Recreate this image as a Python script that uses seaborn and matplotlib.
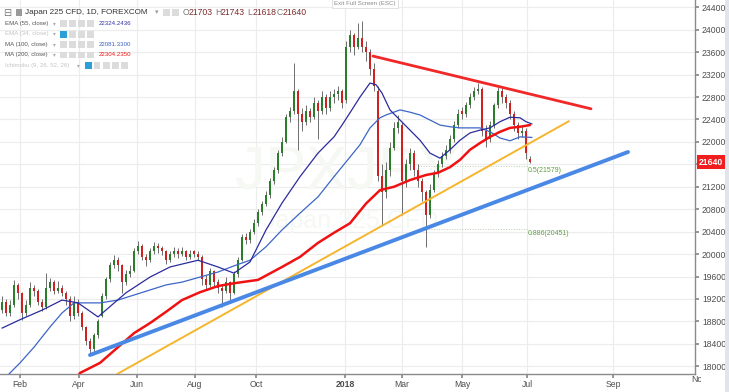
import numpy as np
import pandas as pd
import seaborn as sns
import matplotlib
matplotlib.use("Agg")
import matplotlib.pyplot as plt
from matplotlib.patches import Rectangle
from matplotlib.transforms import blended_transform_factory

# Japan 225 CFD, one candle per ~3 sessions, Jan 2017 -> early Jul 2018
opens = [19000, 19150, 18950, 19100, 19450, 19300, 18950, 19100, 19400, 19350,
         19150, 19050, 19400, 19500, 19350, 19400, 19300, 19200, 18900, 19150,
         18950, 18700, 18450, 18300, 18550, 18900, 19250, 19550, 19800, 19900,
         19800, 19500, 19650, 19700, 20050, 20150, 19950, 19900, 20050, 20150,
         20100, 20050, 19900, 20000, 20050, 20000, 20050, 19950, 20050, 20000,
         19950, 19550, 19450, 19700, 19500, 19400, 19350, 19500, 19300, 19650,
         19900, 20300, 20250, 20400, 20550, 20750, 20900, 21050, 21300, 21500,
         21800, 22000, 22450, 22550, 22900, 22500, 22350, 22550, 22450, 22700,
         22550, 22800, 22600, 22800, 22850, 22900, 22750, 23700, 23900, 23700,
         23850, 23700, 23600, 23300, 22900, 21400, 21100, 21500, 21900, 22250,
         22300, 21300, 21600, 21800, 21500, 21300, 21100, 20700, 21150, 21450,
         21600, 21750, 21850, 22050, 22300, 22550, 22500, 22650, 22800, 22900,
         22950, 22200, 22050, 22300, 22650, 22900, 22800, 22700, 22500, 22300,
         22150, 22200, 21703]
highs = [19250, 19200, 19180, 19540, 19480, 19320, 19180, 19500, 19450, 19380,
         19200, 19660, 19580, 19540, 19520, 19450, 19350, 19250, 19250, 19200,
         18980, 18720, 18500, 18600, 18850, 19300, 19600, 19850, 19990, 19950,
         19820, 19720, 19800, 20100, 20230, 20180, 20000, 20100, 20220, 20200,
         20150, 20080, 20060, 20120, 20100, 20130, 20080, 20070, 20080, 20050,
         19980, 19620, 19760, 19720, 19560, 19450, 19600, 19520, 19700, 19950,
         20350, 20380, 20450, 20620, 20800, 20950, 21120, 21350, 21550, 21850,
         22080, 22500, 22620, 23400, 22950, 22600, 22650, 22600, 22800, 22750,
         22900, 22850, 22900, 22950, 23000, 22950, 23800, 24000, 23950, 24120,
         24160, 23800, 23650, 23400, 23000, 21600, 21650, 22000, 22350, 22480,
         22350, 21700, 21900, 21850, 21600, 21350, 21150, 21250, 21500, 21680,
         21820, 21950, 22120, 22380, 22580, 22620, 22720, 22880, 22980, 23050,
         22980, 22300, 22380, 22700, 22980, 23000, 22850, 22750, 22550, 22350,
         22300, 22250, 21743]
lows = [18950, 18900, 18900, 19050, 19200, 18820, 18900, 19050, 19250, 19100,
        18980, 19020, 19350, 19280, 19300, 19250, 19100, 18800, 18850, 18900,
        18650, 18380, 18230, 18260, 18500, 18880, 19200, 19500, 19750, 19700,
        19300, 19450, 19600, 19680, 20000, 19900, 19780, 19850, 20000, 20020,
        19980, 19830, 19860, 19950, 19930, 19960, 19900, 19920, 19940, 19900,
        19450, 19380, 19420, 19420, 19300, 19060, 19300, 19120, 19280, 19600,
        19880, 20180, 20200, 20350, 20500, 20700, 20850, 21000, 21250, 21450,
        21750, 21980, 22350, 22500, 21850, 22200, 22300, 22350, 22400, 22060,
        22500, 22500, 22550, 22700, 22750, 22600, 22700, 23600, 23550, 23650,
        23600, 23450, 23200, 22900, 21300, 20520, 21000, 21400, 21850, 22150,
        20700, 21200, 21500, 21400, 21200, 20950, 20130, 20650, 21100, 21380,
        21550, 21700, 21800, 22000, 22250, 22400, 22450, 22600, 22750, 22850,
        22100, 21910, 22000, 22250, 22600, 22700, 22600, 22400, 22200, 22050,
        22080, 21700, 21618]
closes = [19150, 18950, 19100, 19450, 19300, 18950, 19100, 19400, 19350, 19150,
          19050, 19400, 19500, 19350, 19400, 19300, 19200, 18900, 19150, 18950,
          18700, 18450, 18300, 18550, 18800, 19250, 19550, 19800, 19900, 19800,
          19500, 19650, 19700, 20050, 20150, 19950, 19900, 20050, 20150, 20100,
          20050, 19900, 20000, 20050, 20000, 20050, 19950, 20000, 20000, 19950,
          19550, 19450, 19700, 19500, 19400, 19350, 19500, 19300, 19650, 19900,
          20300, 20250, 20400, 20550, 20750, 20900, 21050, 21300, 21500, 21800,
          22000, 22450, 22550, 22900, 22500, 22350, 22550, 22450, 22700, 22550,
          22800, 22600, 22800, 22850, 22900, 22700, 23700, 23900, 23700, 23850,
          23700, 23600, 23300, 23000, 21400, 21100, 21500, 21900, 22250, 22350,
          21300, 21600, 21800, 21500, 21300, 21100, 20700, 21150, 21450, 21600,
          21750, 21850, 22050, 22300, 22500, 22500, 22650, 22800, 22900, 22950,
          22200, 22050, 22300, 22650, 22900, 22800, 22700, 22500, 22300, 22150,
          22200, 21800, 21640]

# indicator lines (bar index, price)
ema55_x = [0, 4.5, 10, 15, 19, 24, 31, 37, 42, 49, 54, 58, 62, 66, 70, 74.5, 79, 83, 85, 87,
           89.5, 92, 93.5, 95, 97, 99.5, 102, 104.5, 107, 109.5, 112, 114.5, 117, 119.5, 122,
           124.5, 127, 129.5, 131, 132.5]
ema55_y = [18680, 18830, 19000, 19180, 19130, 18880, 19310, 19590, 19770, 19890, 19770, 19660,
           19860, 20430, 20910, 21380, 21800, 22090, 22300, 22520, 22800, 23050, 23020, 22870,
           22570, 22390, 22210, 22030, 21800, 21710, 21860, 22030, 22160, 22210, 22250, 22360,
           22440, 22430, 22360, 22320]
ma100_x = [0, 2, 4.5, 8, 12, 15, 18, 21, 24.5, 29, 33, 37, 41, 45, 49.5, 54, 58, 62, 66, 70,
           74.5, 79, 83, 87, 89.5, 92, 94.5, 96, 99.5, 102, 104.5, 107, 109.5, 112, 114.5, 117,
           119.5, 122, 124.5, 127, 129.5, 132.5]
ma100_y = [17740, 17880, 18060, 18340, 18700, 18950, 19130, 19130, 19130, 19180, 19270, 19360,
           19450, 19500, 19590, 19680, 19790, 19890, 20130, 20430, 20730, 21020, 21380, 21730,
           21950, 22250, 22430, 22480, 22570, 22530, 22480, 22390, 22300, 22270, 22250, 22250,
           22250, 22180, 22070, 22020, 22090, 22080]
ma200_x = [18.5, 19.5, 24.5, 29, 33, 37, 41, 45, 49.5, 54, 58, 62, 64, 70, 74.5, 79, 83, 87, 91,
           94.5, 98, 102, 106, 109, 112, 114.5, 117, 119.5, 122, 124.5, 127, 129.5, 132]
ma200_y = [17760, 17880, 18060, 18340, 18590, 18770, 18970, 19180, 19320, 19430, 19480, 19520,
           19540, 19770, 19950, 20200, 20380, 20550, 20900, 21140, 21200, 21320, 21410, 21450,
           21550, 21680, 21860, 21980, 22090, 22180, 22250, 22270, 22300]

# drawn trendlines (start/end in bar index, price)
red_tl_x, red_tl_y = [92.75, 147.25], [23530, 22590]
orange_tl_x, orange_tl_y = [28.75, 141.75], [17860, 22370]
blue_tl_x, blue_tl_y = [22, 156.5], [18200, 21820]

fib_levels = [21579, 20451]
fib_labels = ["0.5(21579)", "0.886(20451)"]
fib_start, fib_end = 104, 131.5

month_pos = [4.5, 19.25, 33.75, 48.25, 63.5, 85.75, 100, 115, 131.25, 152.75]
month_lab = ["Feb", "Apr", "Jun", "Aug", "Oct", "2018", "Mar", "May", "Jul", "Sep"]
price_ticks = list(range(18000, 24401, 400))

GREEN, RED, WICK = "#2a7d2a", "#d21f1f", "#6e6e6e"

sns.set_theme(style="white")
plt.rcParams["font.family"] = ["Liberation Sans", "DejaVu Sans"]

W, H = 729, 392
fig = plt.figure(figsize=(W / 100, H / 100), dpi=100)
ax = fig.add_axes([0, 18 / H, 695 / W, 374 / H])

df = pd.DataFrame({"open": opens, "high": highs, "low": lows, "close": closes})
df["i"] = np.arange(len(df))
up = df["close"] >= df["open"]
body_lo = df[["open", "close"]].min(axis=1)
body_h = (df["close"] - df["open"]).abs().clip(lower=12)

ax.vlines(df["i"], df["low"], df["high"], color=WICK, lw=0.7, zorder=3)
ax.bar(df["i"], body_h, bottom=body_lo, width=0.62,
       color=np.where(up, GREEN, RED), linewidth=0, zorder=4)

sns.lineplot(x=ma100_x, y=ma100_y, ax=ax, color="#3c66c6", lw=0.9, zorder=5)
sns.lineplot(x=ema55_x, y=ema55_y, ax=ax, color="#2b2b9e", lw=0.9, zorder=5)
sns.lineplot(x=ma200_x, y=ma200_y, ax=ax, color="#f01212", lw=1.8, zorder=5)

sns.lineplot(x=orange_tl_x, y=orange_tl_y, ax=ax, color="#f5b52c", lw=1.4, zorder=6)
sns.lineplot(x=blue_tl_x, y=blue_tl_y, ax=ax, color="#4a88e6", lw=2.8, zorder=6)
sns.lineplot(x=red_tl_x, y=red_tl_y, ax=ax, color="#f02828", lw=2.0, zorder=6)

for lvl, lab in zip(fib_levels, fib_labels):
    ax.plot([fib_start, fib_end], [lvl, lvl], color="#b9cfae", lw=0.7, ls=":", zorder=2)
    ax.annotate(lab, (fib_end, lvl), xytext=(0, -3.5), textcoords="offset points",
                ha="left", va="center", fontsize=5, color="#5f9e3f", zorder=7)

# faint watermark
ax.text(0.50, 0.537, "JPXJPY", transform=ax.transAxes, fontsize=44, color="#f5f8f3",
        ha="center", va="center", zorder=1)
ax.text(0.505, 0.409, "Japan 225 CFD", transform=ax.transAxes, fontsize=18, color="#f5f8f3",
        ha="center", va="center", zorder=1)

ax.set_xlim(-0.5, 173.25)
ax.set_ylim(17862, 24530)
ax.set_xticks(month_pos)
ax.set_xticklabels(month_lab)
for t in ax.get_xticklabels():
    if t.get_text() == "2018":
        t.set_fontweight("bold")
ax.set_yticks(price_ticks)
# the last-price marker sits where 21600 would be
ax.set_yticklabels(["" if abs(p - closes[-1]) < 200 else str(p) for p in price_ticks])
ax.yaxis.tick_right()
ax.grid(True, color="#ececec", lw=0.8)
ax.set_axisbelow(True)
for s in ["top", "left"]:
    ax.spines[s].set_visible(False)
for s in ["right", "bottom"]:
    ax.spines[s].set_color("#8a8a8a")
    ax.spines[s].set_linewidth(1)
ax.tick_params(axis="y", right=True, left=False, length=3, color="#8a8a8a",
               labelsize=6.2, labelcolor="#4d4d4d", pad=2)
ax.tick_params(axis="x", bottom=True, length=3, color="#8a8a8a",
               labelsize=6.2, labelcolor="#4d4d4d", pad=1)

trans = blended_transform_factory(ax.transAxes, ax.transData)
ax.text(1.006, closes[-1], str(closes[-1]), transform=trans, ha="left", va="center",
        fontsize=6.2, color="white", fontweight="bold", clip_on=False, zorder=10,
        bbox=dict(boxstyle="square,pad=0.3", fc="#f01e1e", ec="none"))


def ftxt(x, y, s, **kw):
    fig.text(x / W, 1 - y / H, s, va="center", **kw)


def box(x, y, w, h, fc, zorder=1):
    fig.patches.append(Rectangle((x / W, 1 - (y + h) / H), w / W, h / H,
                                 transform=fig.transFigure, fc=fc, ec="none", zorder=zorder))


def icons(x0, y, n, first_blue=False):
    for k in range(n):
        box(x0 + 9 * k, y - 3, 6.5, 6.5, "#2a9fd8" if (k == 0 and first_blue) else "#dcdcdc")


# "Nov" cut off by the price scale
ftxt(691, 380, "Nov", fontsize=6.2, color="#4d4d4d")
box(700.5, 374.5, 24.5, 17.5, "white", zorder=5)
box(725, 0, 4, H, "#e1e4ea", zorder=5)

# header / legend
ftxt(3, 12.5, "\u229f", fontsize=7, color="#777777")
box(16, 9, 6, 7, "#9a9a9a")
ftxt(25, 12.5, "Japan 225 CFD, 1D, FOREXCOM", fontsize=5.9, color="#333333")
ftxt(155, 12.5, "\u25be", fontsize=5, color="#999999")
icons(163, 12.5, 2)
for x, letter, val in [(183, "O", "21703"), (215, "H", "21743"), (247, "L", "21618"), (277, "C", "21640")]:
    ftxt(x, 12.5, letter, fontsize=6.2, color="#777777")
    ftxt(x + 6, 12.5, val, fontsize=6.2, color="#7e2b2b")

rows = [
    (23.3, "EMA (55, close)", "#555555", 53, 60, 4, False, "22324.2436", "#3434a8"),
    (34, "EMA (34, close)", "#c4c4c4", 53, 60, 4, True, None, None),
    (44.3, "MA (100, close)", "#555555", 53, 60, 4, False, "22081.3300", "#3d64bd"),
    (54.7, "MA (200, close)", "#555555", 53, 60, 4, False, "22304.2350", "#ee1515"),
    (65.3, "Ichimoku (9, 26, 52, 26)", "#c4c4c4", 77, 85, 5, True, None, None),
]
for y, name, col, xa, xi, n, blue, val, vcol in rows:
    ftxt(5, y, name, fontsize=4.4, color=col)
    ftxt(xa, y, "\u25be", fontsize=4, color="#aaaaaa")
    icons(xi, y, n, blue)
    if val:
        ftxt(99, y, val, fontsize=4.4, color=vcol)

fig.text(365 / W, 1 - 3.5 / H, "Exit Full Screen (ESC)", fontsize=4.4, color="#8a8a8a",
         ha="center", va="center",
         bbox=dict(boxstyle="square,pad=0.35", fc="white", ec="#dddddd", lw=0.6))

fig.savefig("out.png", dpi=100)
